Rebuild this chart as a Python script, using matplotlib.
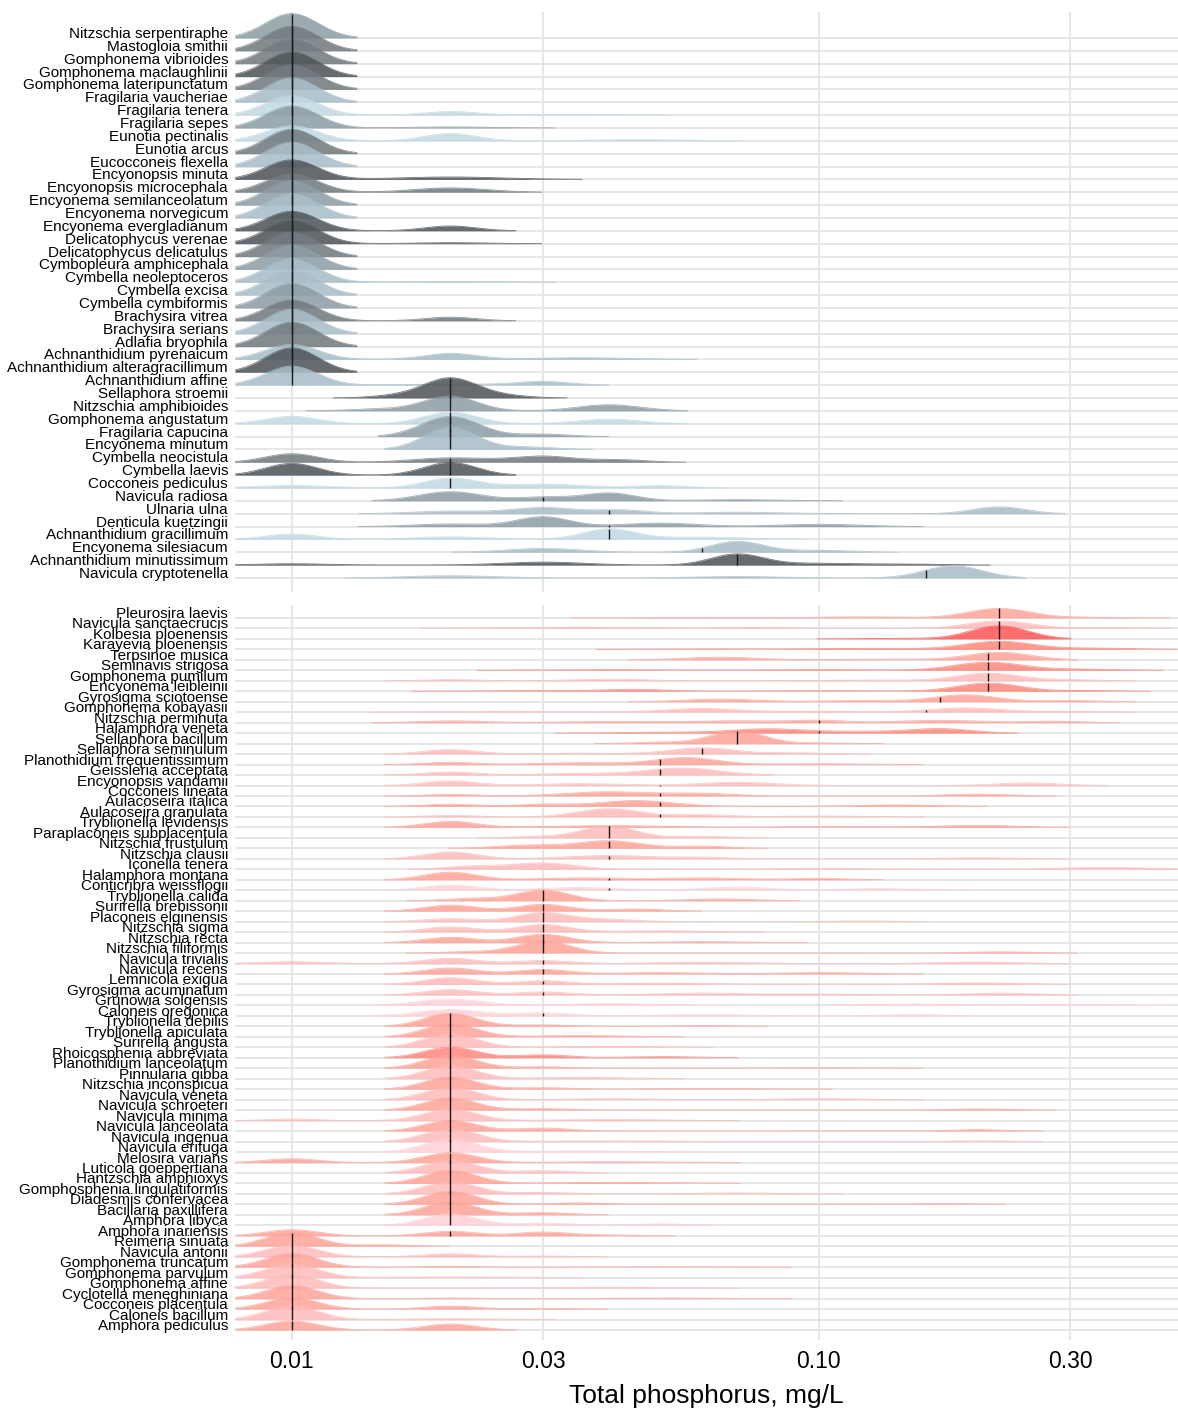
import numpy as np
import matplotlib.pyplot as plt

plt.rcParams['font.family'] = ['Liberation Sans', 'DejaVu Sans']

# ---- data: upper group (low-phosphorus taxa), listed top to bottom ----
top_species = [
    "Nitzschia serpentiraphe", "Mastogloia smithii", "Gomphonema vibrioides",
    "Gomphonema maclaughlinii", "Gomphonema lateripunctatum", "Fragilaria vaucheriae",
    "Fragilaria tenera", "Fragilaria sepes", "Eunotia pectinalis", "Eunotia arcus",
    "Eucocconeis flexella", "Encyonopsis minuta", "Encyonopsis microcephala",
    "Encyonema semilanceolatum", "Encyonema norvegicum", "Encyonema evergladianum",
    "Delicatophycus verenae", "Delicatophycus delicatulus", "Cymbopleura amphicephala",
    "Cymbella neoleptoceros", "Cymbella excisa", "Cymbella cymbiformis",
    "Brachysira vitrea", "Brachysira serians", "Adlafia bryophila",
    "Achnanthidium pyrenaicum", "Achnanthidium alteragracillimum", "Achnanthidium affine",
    "Sellaphora stroemii", "Nitzschia amphibioides", "Gomphonema angustatum",
    "Fragilaria capucina", "Encyonema minutum", "Cymbella neocistula",
    "Cymbella laevis", "Cocconeis pediculus", "Navicula radiosa", "Ulnaria ulna",
    "Denticula kuetzingii", "Achnanthidium gracillimum", "Encyonema silesiacum",
    "Achnanthidium minutissimum", "Navicula cryptotenella",
]
top_shade = list("mggdglpmpg" "ldgmlddgml" "lmglgldldm" "pmlgdpmlmp" "ldl")
top_median = [0.01] * 28 + [0.02] * 8 + [0.03, 0.04, 0.04, 0.04, 0.06, 0.07, 0.16]
# (TP mg/L, share of observations[, spread in log10 units])
top_modes = [
    [(0.01, 1)], [(0.01, 1)], [(0.01, 1)], [(0.01, 1)], [(0.01, 1)], [(0.01, 1)],
    [(0.01, 0.8), (0.02, 0.15), (0.033, 0.05, 0.08)],
    [(0.01, 0.9), (0.02, 0.07, 0.08)],
    [(0.01, 0.62), (0.02, 0.3), (0.045, 0.08, 0.08)],
    [(0.01, 1)], [(0.01, 1)],
    [(0.01, 0.8), (0.02, 0.2, 0.1)],
    [(0.01, 0.75), (0.02, 0.25, 0.07)],
    [(0.01, 1)], [(0.01, 1)],
    [(0.01, 0.8), (0.02, 0.2)],
    [(0.01, 0.94), (0.02, 0.06, 0.07)],
    [(0.01, 1)], [(0.01, 1)],
    [(0.01, 0.96), (0.02, 0.04, 0.08)],
    [(0.01, 1)], [(0.01, 1)],
    [(0.01, 0.85), (0.02, 0.15)],
    [(0.01, 1)], [(0.01, 1)],
    [(0.01, 0.62), (0.02, 0.25), (0.035, 0.13, 0.09)],
    [(0.01, 1)],
    [(0.01, 0.78), (0.03, 0.15), (0.02, 0.07, 0.08)],
    [(0.02, 0.8, 0.05), (0.016, 0.1), (0.025, 0.1)],
    [(0.02, 0.6), (0.04, 0.3, 0.06), (0.015, 0.1, 0.06)],
    [(0.01, 0.3), (0.02, 0.48), (0.04, 0.22, 0.06)],
    [(0.02, 0.9, 0.055), (0.03, 0.1)],
    [(0.02, 0.9), (0.028, 0.1)],
    [(0.01, 0.35), (0.02, 0.25, 0.07), (0.03, 0.3, 0.06), (0.042, 0.1)],
    [(0.01, 0.48), (0.02, 0.52)],
    [(0.01, 0.15, 0.07), (0.02, 0.4), (0.03, 0.25, 0.08), (0.05, 0.1)],
    [(0.02, 0.45, 0.06), (0.03, 0.15), (0.04, 0.32), (0.07, 0.08, 0.08)],
    [(0.02, 0.15, 0.07), (0.03, 0.3, 0.06), (0.042, 0.15), (0.07, 0.1, 0.08), (0.22, 0.28)],
    [(0.02, 0.15, 0.07), (0.03, 0.4), (0.05, 0.2, 0.07), (0.1, 0.15, 0.08)],
    [(0.01, 0.22), (0.02, 0.15, 0.07), (0.04, 0.43), (0.06, 0.15, 0.08)],
    [(0.03, 0.22, 0.07), (0.07, 0.45), (0.1, 0.1, 0.06)],
    [(0.01, 0.08, 0.07), (0.03, 0.2, 0.08), (0.07, 0.45), (0.1, 0.12, 0.08), (0.15, 0.05, 0.06)],
    [(0.02, 0.15, 0.08), (0.07, 0.1, 0.08), (0.18, 0.55, 0.055)],
]

# ---- data: lower group (high-phosphorus taxa), listed top to bottom ----
bot_species = [
    "Pleurosira laevis", "Navicula sanctaecrucis", "Kolbesia ploenensis",
    "Karayevia ploenensis", "Terpsinoe musica", "Seminavis strigosa",
    "Gomphonema pumilum", "Encyonema leibleinii", "Gyrosigma sciotoense",
    "Gomphonema kobayasii", "Nitzschia perminuta", "Halamphora veneta",
    "Sellaphora bacillum", "Sellaphora seminulum", "Planothidium frequentissimum",
    "Geissleria acceptata", "Encyonopsis vandamii", "Cocconeis lineata",
    "Aulacoseira italica", "Aulacoseira granulata", "Tryblionella levidensis",
    "Paraplaconeis subplacentula", "Nitzschia frustulum", "Nitzschia clausii",
    "Iconella tenera", "Halamphora montana", "Conticribra weissflogii",
    "Tryblionella calida", "Surirella brebissonii", "Placoneis elginensis",
    "Nitzschia sigma", "Nitzschia recta", "Nitzschia filiformis",
    "Navicula trivialis", "Navicula recens", "Lemnicola exigua",
    "Gyrosigma acuminatum", "Grunowia solgensis", "Caloneis oregonica",
    "Tryblionella debilis", "Tryblionella apiculata", "Surirella angusta",
    "Rhoicosphenia abbreviata", "Planothidium lanceolatum", "Pinnularia gibba",
    "Nitzschia inconspicua", "Navicula veneta", "Navicula schroeteri",
    "Navicula minima", "Navicula lanceolata", "Navicula ingenua",
    "Navicula erifuga", "Melosira varians", "Luticola goeppertiana",
    "Hantzschia amphioxys", "Gomphosphenia lingulatiformis", "Diadesmis confervacea",
    "Bacillaria paxillifera", "Amphora libyca", "Amphora inariensis",
    "Reimeria sinuata", "Navicula antonii", "Gomphonema truncatum",
    "Gomphonema parvulum", "Gomphonema affine", "Cyclotella meneghiniana",
    "Cocconeis placentula", "Caloneis bacillum", "Amphora pediculus",
]
bot_shade = list("skRrsrkrsk" "srskskkssk" "skskksqssk" "ksskskkqqs"
                 "skrsksksks" "kqskskssqs" "skskkssks")
bot_median = ([0.22] * 4 + [0.21] * 4 + [0.17, 0.16, 0.1, 0.1, 0.07, 0.06]
              + [0.05] * 6 + [0.04] * 7 + [0.03] * 12 + [0.02] * 21 + [0.01] * 9)
bot_modes = [
    [(0.22, 0.75, 0.06), (0.12, 0.12, 0.08), (0.06, 0.08, 0.1), (0.33, 0.05, 0.06)],
    [(0.22, 0.6, 0.06), (0.075, 0.08, 0.05), (0.035, 0.2, 0.12), (0.35, 0.05)],
    [(0.22, 0.95, 0.055), (0.14, 0.05, 0.06)],
    [(0.22, 0.7, 0.065), (0.12, 0.15, 0.1), (0.34, 0.1, 0.06), (0.06, 0.05, 0.08)],
    [(0.22, 0.6, 0.06), (0.065, 0.25, 0.07), (0.13, 0.08, 0.08)],
    [(0.21, 0.7, 0.065), (0.04, 0.1, 0.1), (0.1, 0.1, 0.1), (0.32, 0.1, 0.06)],
    [(0.21, 0.6, 0.06), (0.02, 0.08), (0.04, 0.15, 0.07), (0.12, 0.1, 0.1), (0.3, 0.07)],
    [(0.21, 0.65, 0.06), (0.045, 0.15, 0.06), (0.03, 0.08, 0.1), (0.1, 0.07, 0.1), (0.32, 0.05)],
    [(0.065, 0.25, 0.07), (0.19, 0.55, 0.06), (0.12, 0.12, 0.07), (0.3, 0.08)],
    [(0.025, 0.1, 0.1), (0.06, 0.35, 0.07), (0.1, 0.1, 0.07), (0.19, 0.4, 0.07), (0.3, 0.05)],
    [(0.02, 0.15, 0.06), (0.04, 0.15, 0.1), (0.07, 0.2, 0.08), (0.1, 0.15, 0.05), (0.17, 0.25, 0.08), (0.28, 0.1)],
    [(0.08, 0.4, 0.07), (0.17, 0.35, 0.06), (0.05, 0.1, 0.08), (0.12, 0.15, 0.07)],
    [(0.07, 0.85, 0.05), (0.05, 0.1, 0.05), (0.1, 0.05)],
    [(0.02, 0.3), (0.035, 0.1, 0.08), (0.06, 0.5, 0.06), (0.09, 0.1, 0.06)],
    [(0.02, 0.15), (0.035, 0.2, 0.08), (0.056, 0.55, 0.06), (0.1, 0.1, 0.08)],
    [(0.02, 0.2), (0.055, 0.65, 0.07), (0.035, 0.15, 0.07)],
    [(0.02, 0.3), (0.035, 0.2, 0.08), (0.07, 0.3, 0.07), (0.25, 0.2, 0.06)],
    [(0.02, 0.1), (0.04, 0.45, 0.08), (0.06, 0.2, 0.06), (0.2, 0.15, 0.06)],
    [(0.02, 0.15), (0.045, 0.55, 0.07), (0.03, 0.15), (0.14, 0.15, 0.07)],
    [(0.02, 0.1), (0.04, 0.65, 0.06), (0.1, 0.1, 0.08), (0.06, 0.15)],
    [(0.02, 0.4), (0.04, 0.25, 0.1), (0.2, 0.2, 0.07), (0.1, 0.1, 0.1)],
    [(0.04, 0.8, 0.05), (0.03, 0.1), (0.06, 0.1)],
    [(0.04, 0.6, 0.06), (0.028, 0.25, 0.06), (0.06, 0.15)],
    [(0.02, 0.45), (0.04, 0.35, 0.08), (0.06, 0.1), (0.2, 0.1, 0.07)],
    [(0.03, 0.5, 0.06), (0.022, 0.2), (0.35, 0.2, 0.08), (0.1, 0.1, 0.1)],
    [(0.02, 0.5), (0.035, 0.2, 0.08), (0.06, 0.2, 0.08), (0.1, 0.1)],
    [(0.02, 0.35), (0.035, 0.25, 0.07), (0.07, 0.25, 0.06), (0.13, 0.15, 0.07)],
    [(0.03, 0.7, 0.05), (0.022, 0.15), (0.065, 0.15, 0.06)],
    [(0.02, 0.4), (0.03, 0.45, 0.05), (0.045, 0.15)],
    [(0.02, 0.2), (0.03, 0.6, 0.05), (0.04, 0.15), (0.12, 0.05)],
    [(0.02, 0.35), (0.03, 0.5, 0.05), (0.05, 0.15, 0.08)],
    [(0.02, 0.35), (0.03, 0.55, 0.05), (0.06, 0.1, 0.08)],
    [(0.03, 0.8, 0.05), (0.022, 0.1), (0.22, 0.1, 0.06)],
    [(0.01, 0.15, 0.06), (0.02, 0.35), (0.03, 0.2), (0.06, 0.15, 0.08), (0.2, 0.15, 0.07)],
    [(0.02, 0.4), (0.03, 0.3), (0.05, 0.15, 0.08), (0.1, 0.15, 0.08)],
    [(0.02, 0.45), (0.03, 0.25), (0.05, 0.15, 0.08), (0.2, 0.15, 0.07)],
    [(0.02, 0.35), (0.03, 0.2), (0.06, 0.2, 0.08), (0.22, 0.15, 0.06), (0.1, 0.1, 0.08)],
    [(0.02, 0.5, 0.06), (0.04, 0.2, 0.08), (0.15, 0.15, 0.08), (0.3, 0.1, 0.07)],
    [(0.02, 0.5, 0.06), (0.03, 0.2), (0.06, 0.15, 0.08), (0.15, 0.1)],
    [(0.02, 0.85), (0.03, 0.1), (0.06, 0.05)],
    [(0.02, 0.85), (0.035, 0.15, 0.08)],
    [(0.02, 0.9), (0.04, 0.1, 0.08)],
    [(0.02, 0.7), (0.03, 0.2), (0.05, 0.1, 0.06)],
    [(0.02, 0.85), (0.03, 0.1), (0.1, 0.05, 0.08)],
    [(0.02, 0.85), (0.035, 0.15, 0.08)],
    [(0.02, 0.8), (0.03, 0.1), (0.06, 0.1, 0.1)],
    [(0.02, 0.8), (0.04, 0.1, 0.08), (0.1, 0.1, 0.08)],
    [(0.02, 0.8), (0.03, 0.1), (0.2, 0.1, 0.06)],
    [(0.01, 0.1), (0.02, 0.75), (0.04, 0.15, 0.1)],
    [(0.02, 0.7), (0.03, 0.2), (0.2, 0.1)],
    [(0.02, 0.85), (0.04, 0.1, 0.1), (0.2, 0.05)],
    [(0.02, 0.85), (0.035, 0.15, 0.1)],
    [(0.01, 0.25), (0.02, 0.65), (0.04, 0.1, 0.1)],
    [(0.02, 0.85), (0.03, 0.15)],
    [(0.02, 0.85), (0.04, 0.15, 0.1)],
    [(0.02, 0.8), (0.03, 0.1), (0.07, 0.1, 0.08)],
    [(0.02, 0.85), (0.035, 0.1), (0.17, 0.05)],
    [(0.02, 0.85), (0.03, 0.15)],
    [(0.02, 0.75), (0.03, 0.15), (0.05, 0.1)],
    [(0.01, 0.4), (0.02, 0.3), (0.03, 0.25), (0.04, 0.05)],
    [(0.01, 0.9), (0.015, 0.1)],
    [(0.01, 0.75), (0.02, 0.2), (0.03, 0.05)],
    [(0.01, 0.9), (0.02, 0.05), (0.05, 0.05, 0.1)],
    [(0.01, 0.9), (0.02, 0.1, 0.1)],
    [(0.01, 0.9), (0.04, 0.1, 0.1)],
    [(0.01, 0.85), (0.02, 0.05), (0.05, 0.1, 0.1)],
    [(0.01, 0.75), (0.02, 0.2), (0.03, 0.05)],
    [(0.01, 0.9), (0.02, 0.1, 0.08)],
    [(0.01, 0.6), (0.02, 0.4)],
]

x_ticks = [0.01, 0.03, 0.1, 0.3]
x_labels = ["0.01", "0.03", "0.10", "0.30"]

top_colors = {'d': '#50575b', 'g': '#737c81', 'm': '#8e9ea6', 'l': '#a9bfc9', 'p': '#c2dae4'}
bot_colors = {'R': '#ff5a5a', 'r': '#ff8a7e', 's': '#ffa59b', 'k': '#ffbcbc', 'q': '#ffd2d9'}

BW = 0.05
XMIN, XMAX = 0.00781, 0.481
grid_lg = np.linspace(np.log10(XMIN), np.log10(XMAX), 1200)


def density(modes):
    d = np.zeros_like(grid_lg)
    lo, hi = 10.0, -10.0
    for m in modes:
        tp, w = m[0], m[1]
        bw = m[2] if len(m) > 2 else BW
        c = np.log10(tp)
        d += w * (BW / bw) * np.exp(-0.5 * ((grid_lg - c) / bw) ** 2)
        lo, hi = min(lo, c - 2.5 * bw), max(hi, c + 2.5 * bw)
    mask = (grid_lg >= lo) & (grid_lg <= hi)
    return d, mask


def draw_panel(ax, species, shades, medians, modes, palette, height):
    n = len(species)
    bases = np.arange(n)[::-1]
    x = 10 ** grid_lg
    for i in range(n):
        d, mask = density(modes[i])
        y = bases[i] + height * d
        col = palette[shades[i]]
        ax.fill_between(x[mask], bases[i], y[mask], color=col, alpha=0.88,
                        lw=0, zorder=2 + i * 0.001)
        ax.plot(x[mask], y[mask], color=col, lw=0.6, alpha=0.8, zorder=2 + i * 0.001)
        top = bases[i] + height * np.interp(np.log10(medians[i]), grid_lg, d)
        ax.plot([medians[i], medians[i]], [bases[i], top], color='#1a1a1a',
                lw=1.0, zorder=4, solid_capstyle='butt')
    ax.set_xscale('log')
    ax.set_xlim(XMIN, XMAX)
    ax.set_yticks(bases, species)
    for lbl in ax.get_yticklabels():
        lbl.set_va('baseline')
    ax.set_xticks(x_ticks, x_labels)
    ax.minorticks_off()
    ax.grid(True, color='#e4e4e4', lw=1.3, zorder=0)
    ax.set_axisbelow(True)
    ax.tick_params(axis='y', length=0, pad=5, labelsize=11.0)
    ax.tick_params(axis='x', length=0, pad=7, labelsize=16.5)
    for s in ax.spines.values():
        s.set_visible(False)
    return n


fig = plt.figure(figsize=(11.78, 14.14), dpi=100)
W, H = 1178.0, 1414.0
ax_top = fig.add_axes([235 / W, 1 - 592 / H, 943 / W, 580 / H])
ax_bot = fig.add_axes([235 / W, 1 - 1340 / H, 943 / W, 735 / H])

n_top = draw_panel(ax_top, top_species, top_shade, top_median, top_modes, top_colors, 1.9)
ax_top.set_ylim(-1.09, n_top - 1 + 2.02)
ax_top.tick_params(axis='x', labelbottom=False)

n_bot = draw_panel(ax_bot, bot_species, bot_shade, bot_median, bot_modes, bot_colors, 1.45)
ax_bot.set_ylim(-0.95, n_bot - 1 + 1.24)
ax_bot.set_xlabel("Total phosphorus, mg/L", fontsize=19, labelpad=8)

fig.savefig("out.png", dpi=100)
